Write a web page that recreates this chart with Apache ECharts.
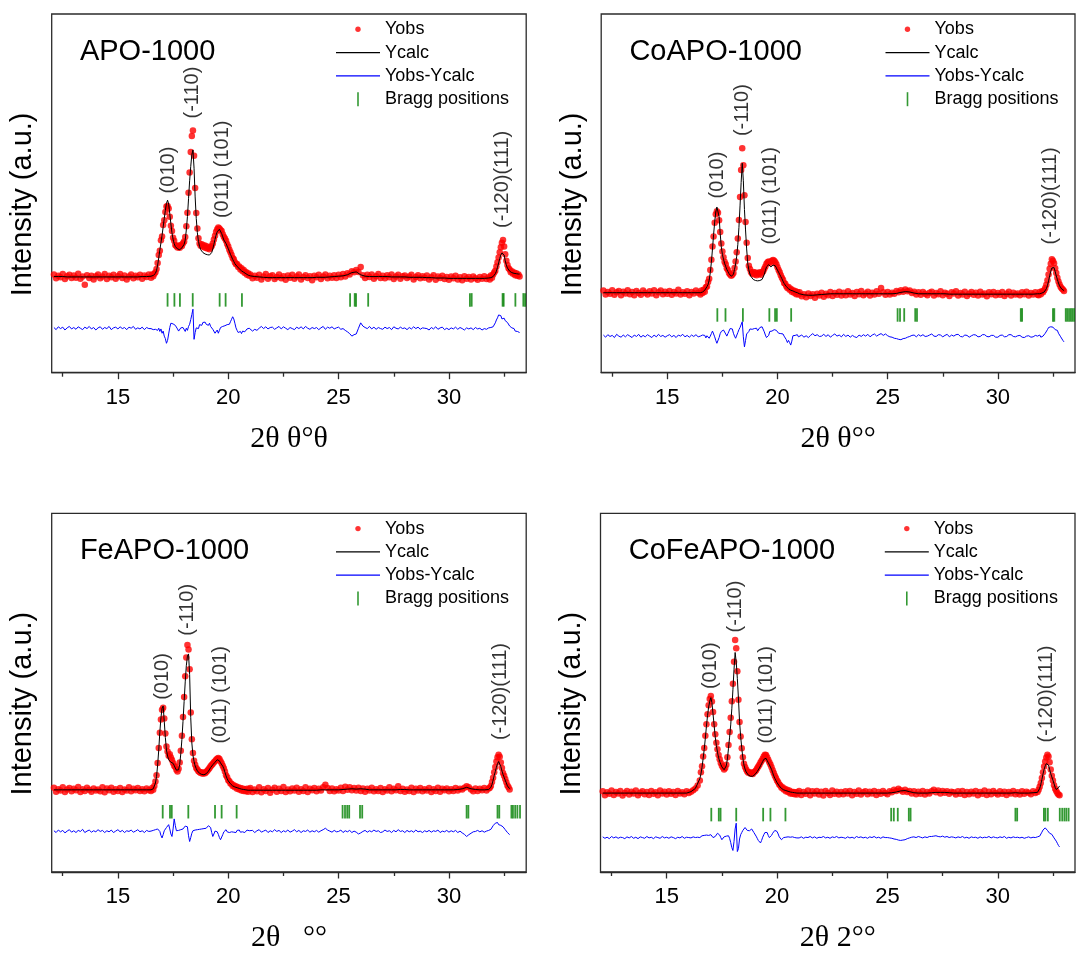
<!DOCTYPE html>
<html><head><meta charset="utf-8">
<script src="https://cdn.jsdelivr.net/npm/echarts@6/dist/echarts.min.js"></script>
<style>html,body{margin:0;padding:0;background:#fff}#chart{width:1076px;height:954px}</style>
</head><body><div id="chart"></div>
<script>
// ---- scan definitions (2θ segments: start, end, step) ----
// Yobs and Yobs-Ycalc are read on the dense scan; Ycalc on the coarse one.
const DENSE_SCAN = [[12.1, 16.4, 0.1], [16.5, 20.95, 0.05], [21.0, 31.8, 0.1], [31.85, 33.2, 0.05]];
const COARSE_SCAN = [[12.1, 16.3, 0.2], [16.5, 20.95, 0.05], [21.0, 31.8, 0.2], [31.85, 33.2, 0.05]];
const X_MIN = 12, X_MAX = 33.5;
const X_TICKS_MAJOR = [15, 20, 25, 30];
const X_TICKS_MINOR = [12.5, 17.5, 22.5, 27.5, 32.5];
const SAMPLE_NAMES = ['APO-1000', 'CoAPO-1000', 'FeAPO-1000', 'CoFeAPO-1000'];
const X_TITLES = ['2θ θ°θ', '2θ θ°°', '2θ   °°', '2θ 2°°'];
const Y_TITLE = 'Intensity (a.u.)';
const PEAK_LABELS = ['(010)', '(-110)', '(011) (101)', '(-120)(111)'];

// ---- APO-1000 ----
const APO_YOBS = [
 [27.4,26.3,27.0,26.6,27.5,26.1,26.9,27.3,26.4,27.1, 26.5,27.6,26.2,26.8,24.5,27.2,26.4,27.0,26.0,26.9,
  27.4,26.3,26.8,27.5,26.1,27.0,26.6,27.3,26.2,26.9, 27.5,26.4,27.1,26.0,26.8,27.4,26.3,27.0,26.6,27.3, 26.2,27.1,26.7,27.4],
 [26.5,27.4,26.9,27.6,28.0,28.9,30.6,32.8,34.0,36.9,
  38.0,41.2,42.5,44.8,46.3,46.5,45.8,43.5,41.0,39.5,
  37.6,36.8,35.6,35.3,34.9,35.4,34.8,35.6,35.3,36.1,
  36.6,37.8,40.8,44.6,50.2,55.8,61.5,66.0,67.5,60.5,
  51.5,44.5,40.2,37.5,36.0,35.4,35.8,35.1,35.5,34.8,
  35.3,34.6,35.0,34.4,34.9,35.3,36.0,37.1,38.2,39.3,
  40.0,40.5,40.2,39.8,39.5,38.6,37.9,37.4,36.8,35.9,
  35.2,34.3,33.6,32.8,32.0,31.6,30.8,30.2,30.3,29.5,
  29.6,28.8,29.1,28.3,28.6,27.8,28.1,27.3,27.7,27.0],
 [27.4,26.3,27.0,26.5,27.3,26.0,26.8,27.5,26.2,26.9,
  27.2,26.1,26.7,27.4,26.3,26.9,25.9,27.1,26.5,27.3,
  26.2,26.8,27.4,26.0,26.7,27.2,26.4,26.9,25.8,27.0,
  26.6,27.3,26.1,26.8,27.4,26.3,27.0,26.5,27.2,26.4,
  27.3,26.6,27.5,26.8,27.7,27.4,28.3,28.0,28.6,28.1,
  29.5,27.2,26.4,27.3,26.7,27.4,26.2,26.9,27.5,26.4,
  27.0,26.3,27.2,26.6,27.4,26.1,26.8,27.3,26.2,26.9,
  27.1,26.4,26.8,27.3,26.0,26.7,27.2,26.3,26.9,26.5,
  27.1,26.0,26.6,27.2,25.9,26.8,26.4,27.0,26.1,26.7,
  25.9,26.8,26.3,27.0,26.0,26.6,25.8,26.9,26.2,26.7,
  26.0,26.8,26.3,25.9,26.7,26.2,26.9,26.1,26.6],
 [26.0,27.1,26.5,27.4,27.9,28.4,29.6,30.8,32.1,33.6,
  35.0,36.2,37.0,35.2,33.0,31.2,30.0,29.1,28.8,28.0,
  28.3,27.6,27.9,27.2,27.7,27.0,27.4,26.8]
];
const APO_YCALC = [
 [26.8,26.8,26.8,26.7,26.7,26.7,26.7,26.7,26.7,26.7, 26.7,26.7,26.7,26.7,26.7,26.7,26.7,26.7,26.7,26.7, 26.8,26.8],
 [26.9,27.0,27.1,27.3,27.7,28.5,30.0,32.0,34.2,36.2,
  38.3,40.6,43.0,45.3,47.2,48.1,47.0,44.3,41.5,39.0,
  37.2,36.0,35.2,34.8,34.5,34.4,34.3,34.5,34.8,35.0,
  35.8,37.0,39.8,43.5,48.5,53.5,57.5,60.8,62.1,57.0,
  49.0,43.0,39.0,36.6,35.2,34.3,33.8,33.5,33.3,33.1,
  33.0,32.9,32.8,32.8,33.0,33.5,34.5,35.8,37.2,38.4,
  39.3,39.8,40.0,39.6,38.8,37.9,37.0,36.6,36.0,35.3,
  34.6,33.8,33.0,32.3,31.6,31.0,30.4,29.9,29.6,29.3,
  29.0,28.7,28.4,28.2,28.0,27.8,27.6,27.4,27.2,27.1],
 [27.0,26.8,26.7,26.6,26.5,26.5,26.5,26.5,26.5,26.5,
  26.5,26.5,26.5,26.5,26.5,26.6,26.6,26.6,26.7,26.8,
  26.9,27.0,27.3,27.9,28.1,27.3,26.9,26.8,26.8,26.8,
  26.8,26.8,26.7,26.7,26.7,26.7,26.6,26.6,26.6,26.6,
  26.5,26.5,26.4,26.4,26.4,26.3,26.3,26.3,26.3,26.3,
  26.3,26.3,26.3,26.3,26.4],
 [26.4,26.5,26.6,26.8,27.1,27.6,28.3,29.4,30.6,31.8,
  32.8,33.4,33.6,32.8,31.2,30.0,29.2,28.7,28.3,28.1,
  27.9,27.8,27.7,27.7,27.6,27.6,27.5,27.5]
];
const APO_DIFF = [
 [12.6,12.0,12.8,12.3,12.7,11.9,12.5,12.9,12.2,12.6, 12.1,12.8,12.4,12.0,12.7,12.3,12.9,12.2,12.6,11.9,
  12.5,12.8,12.1,12.6,12.3,12.9,12.0,12.5,12.7,12.2, 12.8,12.3,12.6,12.0,12.7,12.4,12.9,12.1,12.5,12.2, 12.7,12.0,12.6,12.3],
 [12.3,12.7,12.0,12.5,12.1,12.6,11.8,12.4,11.5,12.2,
  11.0,11.6,10.2,9.5,8.2,9.0,10.8,12.6,13.8,14.2,
  13.6,14.0,13.2,12.8,12.2,11.6,11.7,12.5,12.0,12.6,
  12.2,11.5,12.4,11.8,12.9,13.5,14.8,16.2,17.7,9.3,
  11.2,12.5,13.0,12.3,13.4,13.9,13.2,14.0,13.6,14.1,
  13.5,13.9,13.2,13.8,12.9,12.5,12.1,11.6,11.0,11.4,
  11.9,11.0,11.8,12.6,13.0,12.9,13.4,13.1,13.6,13.4,
  13.8,13.5,14.2,14.9,15.6,15.0,13.8,12.5,11.8,11.2,
  11.0,11.5,10.9,11.6,11.9,11.4,11.7,12.2,11.9,12.4],
 [12.0,11.6,12.1,11.8,12.4,12.9,12.3,12.8,12.2,12.6,
  12.7,12.1,12.5,12.9,12.2,12.8,12.4,12.0,12.6,12.3,
  12.0,12.7,12.3,12.8,12.2,12.9,12.4,12.1,12.6,12.3,
  12.6,12.0,12.5,12.9,12.1,12.7,12.4,12.8,12.2,12.5,
  12.7,12.1,12.3,11.8,11.4,10.9,10.2,10.6,10.8,12.4,
  13.9,13.0,12.6,12.3,12.9,12.2,12.7,12.1,12.6,12.3,
  12.1,12.7,12.3,12.6,12.0,12.8,12.4,12.2,12.7,12.3,
  12.5,12.0,12.6,12.2,12.8,12.3,12.7,12.1,12.5,12.4,
  12.3,11.9,12.6,12.2,12.8,12.1,12.5,12.7,12.0,12.4,
  12.0,12.5,12.2,12.7,12.1,12.6,12.3,11.9,12.5,12.2,
  12.5,12.0,12.6,12.2,12.4,11.9,12.3,12.1,12.5],
 [12.3,12.6,12.2,12.8,13.2,13.9,14.7,15.3,16.1,15.6,
  15.9,15.0,14.8,15.2,14.5,14.8,14.0,13.5,13.0,13.2,
  12.5,12.0,12.3,11.6,11.2,11.5,11.0,11.2]
];
const APO_BRAGG = [17.25,17.56,17.81,18.39,19.61,19.88,20.62,25.52,25.73,25.79,26.34,30.95,31.03,32.43,32.48,33.01,33.37,33.45];
const APO_BRAGG_LEVEL = 20.3;
const APO_PEAK_X = [17.30, 18.39, 19.75, 32.44];
const APO_PEAK_Y = [56.5, 78.1, 56.7, 53.9];

// ---- CoAPO-1000 ----
const COAPO_YOBS = [
 [22.9,21.8,22.5,22.0,23.0,21.7,22.4,22.8,21.6,22.6, 22.1,23.0,21.9,22.5,21.6,22.8,22.2,21.7,22.9,22.3,
  21.8,22.7,22.1,23.0,21.6,22.4,22.9,21.9,22.6,22.0, 22.8,21.7,22.5,22.1,23.1,21.8,22.4,22.0,22.7,21.6, 22.5,22.1,22.9,22.3],
 [21.8,22.9,22.2,23.1,22.6,23.8,24.0,25.3,26.2,28.6,
  31.5,35.2,38.0,41.8,44.2,45.0,44.6,42.5,39.2,36.0,
  33.8,32.2,30.9,30.2,29.1,28.6,27.8,27.4,27.0,27.3,
  27.8,29.2,31.0,33.6,37.4,42.6,49.0,56.5,62.6,57.8,
  49.5,42.0,36.2,32.0,29.8,28.9,28.0,27.6,28.1,27.4,
  27.9,27.2,27.8,27.5,28.0,27.3,27.9,28.3,29.0,29.6,
  30.4,30.8,31.0,30.6,30.9,31.2,31.4,31.2,30.8,30.2,
  29.4,28.6,28.0,27.2,26.5,25.9,25.0,24.8,24.1,23.6,
  23.9,23.1,23.4,22.6,23.0,22.3,22.8,21.9,22.5,21.8],
 [22.4,21.3,21.9,21.0,22.1,21.4,21.9,20.9,22.0,21.5,
  22.3,21.2,22.0,21.6,22.5,21.4,22.2,21.7,22.6,21.5,
  22.3,21.6,22.7,21.8,22.2,21.4,22.5,21.9,22.8,21.6,
  22.1,22.6,21.5,22.3,21.8,22.7,22.0,23.6,22.4,21.7,
  22.5,21.8,22.3,22.0,22.8,22.4,23.0,22.6,23.2,22.7,
  22.9,22.2,22.6,21.8,22.4,21.7,22.5,22.0,21.6,22.3,
  22.6,21.5,22.2,21.9,22.7,21.6,22.3,22.0,21.4,22.4,
  22.1,22.7,21.5,22.2,21.8,22.6,21.4,22.0,22.5,21.7,
  22.3,21.5,22.6,21.8,22.1,21.3,22.4,21.9,22.5,21.6,
  22.2,21.7,22.5,21.4,22.0,22.6,21.5,22.3,21.8,22.1,
  21.6,22.4,21.9,22.6,21.5,22.2,21.8,22.4,21.7],
 [21.6,22.5,21.9,22.7,22.4,23.0,23.6,24.5,25.8,27.4,
  29.0,30.4,31.6,31.2,30.5,29.1,27.8,26.5,25.4,24.6,
  23.9,23.5,23.2,22.8]
];
const COAPO_YCALC = [
 [22.3,22.3,22.3,22.3,22.3,22.3,22.3,22.3,22.3,22.3, 22.3,22.3,22.3,22.3,22.3,22.3,22.3,22.3,22.3,22.3, 22.3,22.3],
 [22.3,22.4,22.5,22.7,23.0,23.5,24.0,24.6,25.8,27.9,
  30.8,34.5,38.5,42.0,44.8,46.2,46.5,43.5,38.8,35.1,
  33.0,31.6,30.5,29.6,28.8,28.2,27.6,27.1,26.9,26.8,
  27.4,28.8,30.3,32.5,35.8,40.5,46.5,53.0,58.4,53.5,
  45.5,39.8,34.5,30.5,28.6,27.5,26.8,26.3,26.0,25.8,
  25.7,25.6,25.6,25.6,25.7,25.8,26.0,26.5,27.4,28.5,
  29.5,30.0,30.1,29.8,29.5,29.6,30.0,30.1,29.8,29.3,
  28.6,28.0,27.4,26.8,26.2,25.5,24.9,24.4,24.0,23.7,
  23.4,23.2,23.0,22.9,22.8,22.6,22.5,22.4,22.3,22.2],
 [22.0,21.7,21.6,21.6,21.7,21.8,21.9,22.0,22.0,22.0,
  22.0,22.0,22.0,22.0,22.0,22.0,22.0,22.0,22.0,22.0,
  22.0,22.0,22.1,22.4,22.6,22.5,22.2,22.0,22.0,22.0,
  22.0,22.0,22.0,22.0,21.9,21.9,21.9,21.9,21.9,21.9,
  21.9,21.9,21.9,21.9,21.9,21.9,21.9,21.9,21.9,21.9,
  21.9,21.9,21.9,21.9,22.0],
 [22.0,22.0,22.1,22.2,22.3,22.5,22.8,23.4,24.3,25.6,
  27.0,28.3,29.2,29.6,29.3,28.2,27.0,26.0,25.0,24.2,
  23.7,23.3,23.0,22.9]
];
const COAPO_DIFF = [
 [10.5,9.9,10.6,10.1,10.4,9.8,10.7,10.2,9.9,10.5, 10.0,10.6,10.2,9.8,10.5,10.1,10.7,9.9,10.4,10.0,
  10.6,10.2,9.8,10.5,10.0,10.7,10.1,10.4,9.9,10.3, 10.6,10.0,10.4,9.8,10.5,10.2,10.7,10.0,10.4,9.9, 10.5,10.1,10.6,10.0],
 [10.2,9.8,10.5,10.0,10.4,9.7,10.3,10.0,9.6,10.2,
  10.9,11.6,11.2,10.0,9.0,8.2,8.6,9.8,10.9,11.5,
  12.0,11.9,11.4,10.8,10.2,10.9,11.6,12.3,12.8,12.2,
  11.0,10.2,9.6,10.1,11.2,12.0,12.6,12.8,14.2,10.0,
  7.2,9.0,10.8,11.0,11.5,12.2,11.8,12.1,11.6,12.3,
  11.9,12.4,11.7,12.2,12.6,12.1,12.8,12.5,11.4,10.5,
  9.8,9.6,10.4,11.5,11.0,11.6,11.2,12.0,11.5,11.8,
  11.3,11.0,10.6,10.9,10.4,10.8,10.2,9.9,9.2,8.4,
  9.0,8.4,7.7,8.8,10.3,9.8,10.4,10.1,10.6,10.0],
 [10.0,10.5,9.9,10.3,9.8,10.4,10.9,10.3,10.6,10.1,
  10.2,10.7,10.1,10.6,9.9,10.4,10.8,10.2,10.5,10.0,
  10.7,10.1,10.5,9.9,10.4,10.0,9.8,10.5,10.1,10.6,
  10.2,10.7,10.0,10.5,10.8,10.2,10.6,10.9,10.4,10.8,
  10.3,10.0,9.9,9.6,9.5,9.3,9.2,9.5,9.6,9.9,
  10.1,10.4,10.5,10.0,10.6,10.2,10.6,10.1,10.2,10.5,
  10.8,10.2,10.1,10.6,10.5,10.0,10.4,10.7,10.0,10.5,
  10.2,10.6,10.7,10.1,10.0,10.5,10.4,9.9,10.3,10.6,
  10.5,10.0,10.1,10.6,10.6,10.1,10.0,10.4,10.4,9.9,
  9.9,10.4,10.5,10.0,10.1,10.6,10.6,10.1,10.0,10.3,
  10.4,9.9,9.8,10.2,10.3,9.9,10.0,10.4,10.2],
 [10.1,10.5,9.9,10.4,10.2,10.7,11.0,11.4,12.0,12.6,
  12.3,12.8,12.5,12.7,12.2,12.0,11.6,11.8,11.0,10.6,
  10.0,9.5,9.0,8.6]
];
const COAPO_BRAGG = [17.27,17.64,18.43,19.63,19.89,19.97,20.62,25.45,25.56,25.75,26.25,26.33,31.04,31.10,32.50,32.56,33.08,33.15,33.23,33.31,33.38,33.46];
const COAPO_BRAGG_LEVEL = 16.1;
const COAPO_PEAK_X = [17.29, 18.40, 19.69, 32.40];
const COAPO_PEAK_Y = [55.1, 73.2, 49.3, 49.3];

// ---- FeAPO-1000 ----
const FEAPO_YOBS = [
 [23.5,22.4,23.1,22.7,23.6,22.3,23.0,23.4,22.5,23.2, 22.8,23.7,22.3,23.1,22.6,23.5,22.9,22.4,23.3,22.7,
  23.0,22.5,23.6,22.2,23.3,22.8,23.5,22.4,23.1,22.6, 23.4,22.3,23.0,22.7,23.6,22.5,23.2,22.8,23.4,22.6, 23.1,22.5,23.3,22.8],
 [22.6,23.4,22.9,24.0,25.2,27.0,30.4,34.6,38.8,42.5,
  45.2,45.8,42.8,38.6,35.0,33.6,32.4,32.8,31.9,31.2,
  30.4,29.6,29.3,28.5,28.0,28.8,30.5,33.8,38.0,43.2,
  48.8,54.6,59.8,63.3,62.0,56.5,44.5,37.0,33.2,31.0,
  29.9,29.0,28.6,28.1,27.9,27.6,27.8,27.4,27.7,27.5,
  27.9,28.2,28.6,29.0,29.5,29.8,30.2,30.6,30.9,31.3,
  31.6,31.8,31.5,30.9,30.3,29.6,28.9,28.0,27.0,26.4,
  25.6,25.3,24.7,24.6,24.0,24.2,23.6,23.9,23.2,23.6,
  23.0,23.4,22.7,23.3,22.6,23.1,22.5,23.2,22.4,23.0],
 [23.4,22.3,23.0,22.5,23.6,22.2,23.1,22.6,23.4,22.1,
  22.9,23.5,22.4,23.2,22.6,23.7,22.3,23.0,22.5,23.3,
  22.7,23.5,22.4,23.1,22.6,23.6,22.3,23.2,22.8,23.4,
  22.5,23.2,22.7,23.6,24.3,23.4,22.6,23.3,22.5,23.1,
  22.7,23.5,22.6,23.8,22.9,23.6,22.8,23.4,22.7,23.5,
  22.6,23.3,22.4,23.2,22.7,23.5,22.5,23.1,22.6,23.4,
  22.3,23.1,22.7,23.6,22.5,23.2,22.8,23.9,22.6,23.2,
  22.4,23.0,22.6,23.5,22.3,23.2,22.7,23.4,22.5,23.1,
  22.7,23.4,22.3,23.1,22.6,23.5,22.4,23.2,22.8,23.3,
  22.5,23.1,22.6,23.4,22.7,23.2,23.0,23.5,23.9,23.6,
  23.0,22.5,23.3,22.6,23.2,22.8,23.4,22.7,23.3],
 [23.5,24.0,25.1,26.3,27.8,29.3,30.8,32.0,32.7,32.1,
  30.5,29.0,27.6,26.8,25.9,25.0,24.1,23.6,23.0]
];
const FEAPO_YCALC = [
 [22.9,22.9,22.9,22.9,22.9,22.9,22.9,22.9,22.9,22.9, 22.9,22.9,22.9,22.9,22.9,22.9,22.9,22.9,22.9,22.9, 22.9,22.9],
 [22.9,23.0,23.2,23.7,24.8,26.6,29.8,34.0,39.0,43.0,
  45.6,46.3,42.0,37.5,34.0,32.3,31.3,30.8,30.6,30.5,
  30.3,29.7,29.0,28.4,28.1,28.5,30.0,33.0,37.0,42.0,
  47.5,53.0,57.5,60.2,60.8,55.0,43.0,36.0,32.6,30.8,
  29.6,28.8,28.2,27.8,27.5,27.3,27.2,27.1,27.1,27.2,
  27.4,27.7,28.1,28.6,29.1,29.6,29.9,30.2,30.6,31.0,
  31.3,31.4,31.0,30.4,29.9,29.5,28.8,27.8,26.8,26.0,
  25.4,24.9,24.6,24.3,24.0,23.8,23.7,23.6,23.5,23.4,
  23.3,23.2,23.1,23.0,23.0,22.9,22.9,22.9,22.8,22.8],
 [22.8,22.8,22.8,22.8,22.8,22.8,22.8,22.8,22.8,22.8,
  22.8,22.8,22.8,22.8,22.8,22.8,22.9,22.9,22.9,22.9,
  22.9,23.0,23.1,23.2,23.1,23.2,23.1,22.9,22.9,22.9,
  22.9,22.9,22.9,22.9,23.0,23.0,22.9,22.9,22.9,22.9,
  22.9,22.9,22.9,22.9,22.9,22.9,22.9,23.0,23.2,23.6,
  23.2,23.0,22.9,22.9,23.0],
 [23.2,23.6,24.4,25.6,26.9,28.0,29.2,30.2,30.8,30.5,
  29.4,28.2,27.2,26.4,25.6,24.8,24.0,23.5,23.2]
];
const FEAPO_DIFF = [
 [11.5,11.0,11.7,11.2,11.6,10.9,11.4,11.8,11.1,11.5, 11.0,11.6,11.3,11.9,11.0,11.4,11.7,11.1,11.5,11.2,
  11.8,11.3,11.6,11.0,11.5,11.2,11.7,11.0,11.4,11.8, 11.2,11.6,11.0,11.5,11.3,11.7,11.1,11.4,11.8,11.2, 11.5,11.0,11.6,11.3],
 [11.4,11.0,11.6,11.2,11.8,11.5,12.0,12.2,11.3,10.2,
  9.5,10.4,11.5,11.9,12.4,12.9,13.2,12.0,10.6,9.9,
  12.0,14.8,13.0,11.5,11.0,11.6,11.2,11.8,11.4,12.0,
  12.4,12.8,13.2,12.6,10.1,8.5,9.6,10.8,11.5,11.2,
  11.7,11.3,11.8,11.4,11.9,11.5,12.0,11.6,12.1,11.8,
  12.2,12.5,12.9,13.2,12.4,11.0,9.9,10.6,11.4,11.6,
  11.2,10.5,9.6,9.0,9.4,10.4,11.2,11.5,11.8,11.2,
  11.6,11.0,11.5,11.2,11.7,11.1,11.5,11.0,11.6,11.3,
  11.7,11.1,11.5,11.2,11.6,11.0,11.4,11.7,11.2,11.5],
 [11.2,11.6,11.0,11.5,11.8,11.1,11.4,11.7,11.0,11.5,
  11.2,11.8,11.3,11.6,11.0,11.5,11.2,11.7,11.1,11.4,
  11.8,11.2,11.6,11.0,11.5,11.3,11.7,11.1,11.5,11.2,
  11.6,11.1,11.5,11.8,12.2,11.7,11.4,11.1,11.6,11.2,
  11.3,11.7,11.0,11.5,11.2,11.6,11.0,11.4,11.1,10.6,
  10.9,11.3,11.6,11.1,11.5,11.2,11.7,11.3,11.5,11.0,
  11.2,11.7,11.3,11.5,11.0,11.6,11.2,11.8,11.3,11.5,
  11.0,11.6,11.2,11.5,11.1,11.7,11.2,11.4,11.0,11.5,
  11.2,11.6,11.1,11.5,11.3,11.7,11.0,11.4,11.2,11.6,
  11.1,11.5,11.2,11.6,11.0,11.4,10.9,10.5,9.9,10.4,
  10.8,11.2,11.3,11.6,11.2,11.5,11.1,11.4,11.6],
 [11.4,11.9,12.4,12.9,13.3,13.6,13.4,13.8,13.2,13.5,
  13.0,13.3,12.6,12.2,11.8,11.5,11.0,10.6,10.4]
];
const FEAPO_BRAGG = [17.03,17.36,17.44,18.19,19.40,19.70,20.38,25.18,25.29,25.39,25.48,25.97,26.07,30.80,30.88,32.20,32.28,32.83,32.90,33.00,33.10,33.22];
const FEAPO_BRAGG_LEVEL = 16.8;
const FEAPO_PEAK_X = [17.02, 18.16, 19.63, 32.33];
const FEAPO_PEAK_Y = [54.5, 73.1, 49.4, 50.3];

// ---- CoFeAPO-1000 ----
const COFEAPO_YOBS = [
 [22.5,21.4,22.2,21.8,22.7,21.5,22.3,21.9,22.6,21.3, 22.0,22.6,21.6,22.4,21.9,22.7,21.4,22.1,22.5,21.7,
  22.3,21.5,22.6,21.8,22.2,21.4,22.7,21.9,22.4,21.6, 22.5,21.8,22.3,21.5,22.6,21.9,22.2,21.7,22.5,22.0, 22.4,22.8,23.3,24.1],
 [25.5,27.8,29.5,32.2,34.6,38.0,41.2,44.0,46.5,48.2,
  49.1,47.5,44.6,41.2,38.4,36.0,34.2,32.6,31.4,30.4,
  29.6,29.1,28.6,29.0,29.9,32.0,35.4,39.0,43.0,47.6,
  52.5,58.6,64.7,62.4,56.0,48.0,41.8,37.8,34.5,32.0,
  30.2,29.3,28.6,28.0,27.7,27.9,27.4,27.6,27.3,27.8,
  28.0,28.4,28.9,29.4,29.9,30.5,31.0,31.6,32.2,32.7,
  32.6,32.0,31.3,30.6,30.0,29.2,28.4,27.6,26.8,26.2,
  25.5,25.0,24.4,24.1,23.5,23.6,23.0,23.2,22.5,22.9,
  22.3,22.7,21.9,22.4,21.8,22.3,21.7,22.2,21.6,22.1],
 [22.6,21.5,22.3,21.8,22.7,21.4,22.5,21.9,22.6,21.6,
  22.4,21.3,22.6,22.0,21.5,22.7,21.8,22.4,21.6,22.3,
  21.7,22.5,21.9,22.6,21.4,22.3,21.8,22.7,21.6,22.2,
  22.5,21.7,22.4,21.9,22.6,21.5,22.3,21.8,22.6,22.0,
  21.7,22.5,22.2,22.9,22.6,23.2,22.8,22.4,22.9,22.3,
  22.6,21.9,22.5,21.7,22.4,21.8,22.6,21.6,22.3,21.9,
  22.5,22.9,22.2,22.7,21.9,22.6,22.1,22.5,21.8,22.4,
  22.2,21.6,22.5,21.8,22.6,21.5,22.3,21.7,22.4,21.9,
  22.6,21.4,22.3,21.8,22.7,21.5,22.4,21.7,22.6,22.0,
  21.6,22.5,21.8,22.4,21.5,22.3,21.9,22.6,21.7,22.2,
  21.6,22.5,21.8,22.4,22.1,21.7,22.5,22.0,22.3],
 [22.9,23.8,24.8,26.2,27.8,29.4,30.8,31.9,32.7,32.2,
  30.6,28.6,26.8,25.5,24.2,23.2,22.6,22.0,21.6,21.4]
];
const COFEAPO_YCALC = [
 [22.0,22.0,22.0,22.0,22.0,22.0,22.0,22.0,22.0,22.0, 22.0,22.0,22.0,22.0,22.0,22.0,22.0,22.0,22.0,22.0, 22.4,23.3],
 [26.0,27.3,29.2,31.6,34.2,37.3,40.6,43.6,46.0,47.6,
  48.6,47.2,44.0,40.8,37.6,35.3,33.4,31.9,30.8,30.0,
  29.3,28.8,28.5,28.6,29.6,31.5,34.5,37.6,41.0,45.5,
  50.8,56.5,61.2,58.5,54.0,48.5,42.0,37.8,34.6,31.8,
  29.8,28.7,27.9,27.4,27.0,26.8,26.7,26.6,26.7,26.9,
  27.2,27.6,28.0,28.5,29.0,29.6,30.2,30.8,31.4,31.8,
  31.7,31.1,30.5,29.9,29.4,28.6,27.7,26.8,26.1,25.5,
  24.9,24.4,24.0,23.6,23.3,23.1,22.9,22.8,22.7,22.6,
  22.5,22.4,22.3,22.2,22.2,22.1,22.1,22.0,22.0,22.0],
 [22.0,22.0,22.0,22.0,22.0,22.0,22.0,22.0,22.0,22.0,
  22.0,22.0,22.0,22.0,22.0,22.0,22.0,22.0,22.0,22.0,
  22.0,22.1,22.3,22.6,22.7,22.4,22.1,22.0,22.0,22.0,
  22.1,22.2,22.2,22.2,22.1,22.0,22.0,22.0,22.0,22.0,
  22.0,22.0,22.0,22.0,22.0,22.0,22.0,22.0,22.0,22.1,
  22.0,22.0,22.0,22.1,22.2],
 [22.5,23.3,24.4,25.8,27.3,28.6,29.6,30.2,30.4,29.8,
  28.6,27.4,26.5,25.6,24.6,23.6,23.0,22.8,23.5,24.0]
];
const COFEAPO_DIFF = [
 [9.8,9.4,9.7,9.3,9.9,9.5,9.8,9.4,9.7,9.6, 9.3,9.8,9.5,9.9,9.4,9.7,9.3,9.8,9.6,9.4,
  9.9,9.5,9.7,9.3,9.8,9.6,9.4,9.9,9.5,9.7, 9.4,9.8,9.6,9.3,9.7,9.5,9.9,9.4,9.7,9.6, 9.5,9.8,9.6,9.7],
 [9.6,9.8,10.1,10.4,10.2,10.6,10.3,10.0,10.2,10.5,
  10.4,10.0,9.6,9.4,9.9,10.4,10.8,10.9,10.3,9.6,
  9.0,9.3,9.8,10.2,10.0,10.4,10.1,9.4,8.2,6.8,
  6.0,8.5,12.0,13.6,5.7,6.5,9.2,10.4,11.0,11.6,
  12.0,12.4,12.0,11.6,11.2,11.5,11.8,12.0,11.6,11.0,
  10.5,10.0,9.4,8.8,8.3,8.1,8.8,9.7,10.4,11.0,
  11.2,11.0,10.2,9.6,9.5,10.2,10.8,11.3,11.6,11.7,
  11.3,10.6,9.8,9.3,9.0,9.2,9.6,9.4,9.7,9.5,
  9.8,9.4,9.7,9.5,9.8,9.4,9.6,9.8,9.5,9.7],
 [9.5,9.8,9.4,9.7,9.6,9.9,9.5,9.8,9.4,9.7,
  9.6,9.9,9.5,9.7,9.4,9.8,9.6,9.9,9.5,9.7,
  9.6,9.4,9.8,9.5,9.7,9.4,9.9,9.6,9.8,9.5,
  9.7,9.4,9.8,9.6,9.9,9.5,9.7,9.4,9.8,9.6,
  9.6,9.5,9.4,9.2,9.1,8.9,8.8,8.9,9.0,9.3,
  9.5,9.7,9.8,9.6,9.9,9.7,9.5,9.8,9.6,9.9,
  9.9,10.0,10.1,9.9,9.8,10.0,9.7,9.9,9.6,9.8,
  9.7,9.5,9.8,9.6,9.9,9.5,9.7,9.4,9.8,9.6,
  9.7,9.4,9.8,9.5,9.7,9.6,9.9,9.5,9.8,9.6,
  9.5,9.8,9.6,9.9,9.4,9.7,9.5,9.8,9.6,9.7,
  9.5,9.7,9.4,9.6,9.8,9.5,9.7,9.6,9.8],
 [9.7,10.0,10.5,11.1,11.7,12.1,12.3,12.0,11.6,11.2,
  10.8,10.9,10.5,10.0,9.5,9.0,8.6,8.0,7.4,7.0]
];
const COFEAPO_BRAGG = [17.02,17.36,17.44,18.15,19.37,19.70,20.38,25.17,25.29,25.47,25.97,26.05,30.80,30.88,32.09,32.16,32.27,32.81,32.92,33.02,33.11,33.21];
const COFEAPO_BRAGG_LEVEL = 16.0;
const COFEAPO_PEAK_X = [16.98, 18.11, 19.50, 32.21];
const COFEAPO_PEAK_Y = [57.5, 74.0, 49.4, 49.6];

// ---- styling / layout ----
const FONT = 'Liberation Sans';
const SERIF = 'Liberation Serif';
const TEXT = '#000';
const FRAME = '#2b2b2b';
const C_OBS = '#ff0000', C_CALC = '#000000', C_DIFF = '#0000ff', C_BRAGG = '#008000';
const ICON_DOT = 'path://M0,0M44,14M19.3,7a2.7,2.7,0,1,0,5.4,0a2.7,2.7,0,1,0,-5.4,0z';
const ICON_LINE = 'path://M0,0M44,14M0,6.4h44v1.2h-44z';
const ICON_TICK = 'path://M0,0M44,14M21.2,0h1.6v14h-1.6z';

const PANELS = [
  {left: 51.7, top: 14, width: 474.5, height: 358.7, obs: APO_YOBS, calc: APO_YCALC, diff: APO_DIFF, bragg: APO_BRAGG, braggLevel: APO_BRAGG_LEVEL, px: APO_PEAK_X, py: APO_PEAK_Y},
  {left: 601.2, top: 14, width: 473.8, height: 358.7, obs: COAPO_YOBS, calc: COAPO_YCALC, diff: COAPO_DIFF, bragg: COAPO_BRAGG, braggLevel: COAPO_BRAGG_LEVEL, px: COAPO_PEAK_X, py: COAPO_PEAK_Y},
  {left: 51.7, top: 513.3, width: 474.5, height: 359, obs: FEAPO_YOBS, calc: FEAPO_YCALC, diff: FEAPO_DIFF, bragg: FEAPO_BRAGG, braggLevel: FEAPO_BRAGG_LEVEL, px: FEAPO_PEAK_X, py: FEAPO_PEAK_Y},
  {left: 600.5, top: 513.3, width: 474.5, height: 359, obs: COFEAPO_YOBS, calc: COFEAPO_YCALC, diff: COFEAPO_DIFF, bragg: COFEAPO_BRAGG, braggLevel: COFEAPO_BRAGG_LEVEL, px: COFEAPO_PEAK_X, py: COFEAPO_PEAK_Y}
];

function segGrid(s) {
  const [a, b, st] = s; const n = Math.round((b - a) / st); const out = [];
  for (let k = 0; k <= n; k++) out.push(+(a + k * st).toFixed(2));
  return out;
}
const DENSE_GRIDS = DENSE_SCAN.map(segGrid);
const COARSE_GRIDS = COARSE_SCAN.map(segGrid);
function pairs(segs, grids) {
  const out = [];
  segs.forEach((seg, k) => { const g = grids[k]; seg.forEach((v, i) => { if (i < g.length) out.push([g[i], v]); }); });
  return out;
}

const option = {animation: false, grid: [], xAxis: [], yAxis: [], series: [], legend: [], title: []};

PANELS.forEach((p, i) => {
  option.grid.push({left: p.left, top: p.top, width: p.width, height: p.height, show: true, borderColor: FRAME, borderWidth: 1.3, backgroundColor: 'transparent'});
  option.xAxis.push({
    gridIndex: i, type: 'value', min: X_MIN, max: X_MAX, position: 'bottom',
    axisLine: {show: true, onZero: false, lineStyle: {color: FRAME, width: 1.3}},
    axisTick: {show: true, customValues: X_TICKS_MAJOR, length: 6.5, lineStyle: {color: FRAME, width: 1.3}},
    axisLabel: {show: true, customValues: X_TICKS_MAJOR, fontSize: 22, fontFamily: FONT, color: TEXT, margin: 14},
    splitLine: {show: false},
    name: X_TITLES[i], nameLocation: 'middle', nameGap: 51,
    nameTextStyle: {fontSize: 30, fontFamily: SERIF, color: TEXT}
  });
  option.xAxis.push({
    gridIndex: i, type: 'value', min: X_MIN, max: X_MAX, position: 'bottom',
    axisLine: {show: false, onZero: false},
    axisTick: {show: true, customValues: X_TICKS_MINOR, length: 4, lineStyle: {color: FRAME, width: 1.3}},
    axisLabel: {show: false}, splitLine: {show: false}
  });
  option.yAxis.push({
    gridIndex: i, type: 'value', min: 0, max: 100,
    axisLine: {show: false}, axisTick: {show: false}, axisLabel: {show: false}, splitLine: {show: false},
    name: Y_TITLE, nameLocation: 'middle', nameGap: 14,
    nameTextStyle: {fontSize: 29, fontFamily: FONT, color: TEXT, padding: [0, 22, 0, 0]}
  });
  const xi = 2 * i;
  option.series.push({
    name: 'Yobs', type: 'scatter', xAxisIndex: xi, yAxisIndex: i, data: pairs(p.obs, DENSE_GRIDS),
    symbol: 'circle', symbolSize: 6.5, itemStyle: {color: C_OBS}, z: 2, silent: true
  });
  option.series.push({
    name: 'Ycalc', type: 'line', xAxisIndex: xi, yAxisIndex: i, data: pairs(p.calc, COARSE_GRIDS),
    showSymbol: false, symbol: 'none', lineStyle: {color: C_CALC, width: 1}, itemStyle: {color: C_CALC}, z: 3, silent: true
  });
  option.series.push({
    name: 'Yobs-Ycalc', type: 'line', xAxisIndex: xi, yAxisIndex: i, data: pairs(p.diff, DENSE_GRIDS),
    showSymbol: false, symbol: 'none', lineStyle: {color: C_DIFF, width: 1}, itemStyle: {color: C_DIFF}, z: 3, silent: true
  });
  option.series.push({
    name: 'Bragg positions', type: 'scatter', xAxisIndex: xi, yAxisIndex: i,
    data: p.bragg.map(b => [b, p.braggLevel]),
    symbol: 'rect', symbolSize: [1.8, 13.5], itemStyle: {color: C_BRAGG}, z: 2, silent: true
  });
  option.series.push({
    name: 'hkl', type: 'scatter', xAxisIndex: xi, yAxisIndex: i,
    data: PEAK_LABELS.map((t, k) => ({name: t, value: [p.px[k], p.py[k]]})),
    symbolSize: 0, z: 5, silent: true,
    label: {show: true, formatter: '{b}', rotate: 90, position: 'inside', align: 'center', verticalAlign: 'middle', fontSize: 20, fontFamily: FONT, color: TEXT}
  });
  option.legend.push({
    left: p.left + 284.3, top: p.top + 6.3, orient: 'vertical', itemWidth: 44, itemHeight: 14, itemGap: 5.3,
    selectedMode: false, padding: 0, itemStyle: {borderWidth: 0},
    textStyle: {fontSize: 18, fontFamily: FONT, color: TEXT},
    data: [
      {name: 'Yobs', icon: ICON_DOT, itemStyle: {color: C_OBS, borderWidth: 0}},
      {name: 'Ycalc', icon: ICON_LINE, itemStyle: {color: C_CALC, borderWidth: 0}},
      {name: 'Yobs-Ycalc', icon: ICON_LINE, itemStyle: {color: C_DIFF, borderWidth: 0}},
      {name: 'Bragg positions', icon: ICON_TICK, itemStyle: {color: C_BRAGG, borderWidth: 0}}
    ]
  });
  option.title.push({
    text: SAMPLE_NAMES[i], left: p.left + 28.2, top: p.top + 23, padding: 0,
    textStyle: {fontSize: 29, fontWeight: 'normal', fontFamily: FONT, color: TEXT}
  });
});

const chart = echarts.init(document.getElementById('chart'), null, {renderer: 'canvas'});
chart.setOption(option);
</script>
</body></html>
